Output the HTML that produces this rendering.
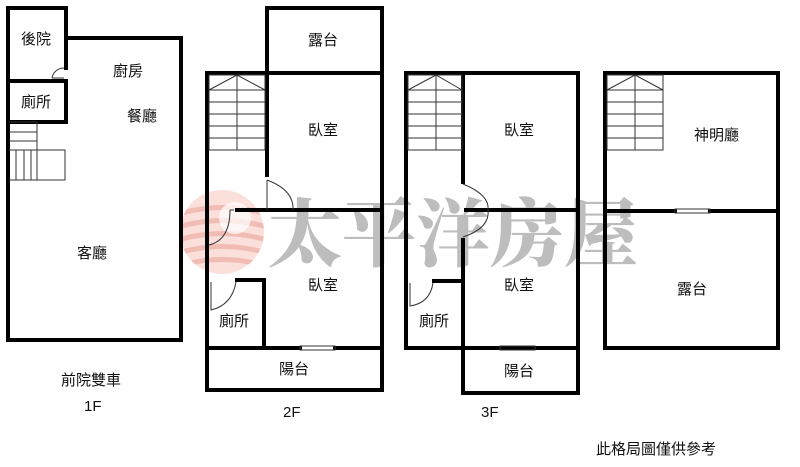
<!DOCTYPE html>
<html><head><meta charset="utf-8"><style>
html,body{margin:0;padding:0;background:#fff;}
svg{display:block}
text{font-family:"Liberation Sans","Noto Sans CJK TC",sans-serif;fill:#111;}
</style></head><body>
<svg width="800" height="467" viewBox="0 0 800 467" xmlns="http://www.w3.org/2000/svg">
<defs><clipPath id="c"><circle cx="222" cy="232" r="42"/></clipPath></defs>
<g clip-path="url(#c)" opacity="0.45">
<circle cx="222" cy="232" r="42" fill="#f3b8b0"/>
<g stroke="#e06a5a" stroke-width="5" fill="none">
<path d="M175 215 Q222 200 270 215"/><path d="M175 228 Q222 213 270 228"/><path d="M175 241 Q222 226 270 241"/><path d="M175 254 Q222 239 270 254"/><path d="M175 267 Q222 252 270 267"/>
</g>
<circle cx="235" cy="218" r="16" fill="#fff" opacity="0.7"/>
</g>
<text x="268" y="260" style="font-family:'Noto Serif CJK SC',serif;font-weight:900;font-size:74px;fill:#bdbdbd;letter-spacing:0px">太平洋房屋</text>

<g stroke="#000" stroke-width="4" fill="none" stroke-linecap="square">
<path d="M8 8 H66 V38 H181 V340 H8 Z"/>
<path d="M66 38 V68"/>
<path d="M8 81 H66 V122 H8"/>
<rect x="267" y="8" width="115" height="65"/>
<rect x="207" y="73" width="175" height="317"/>
<path d="M267 73 V175"/>
<path d="M237 210 H382"/>
<path d="M237 280 H264 V348"/>
<path d="M207 348 H300 M335 348 H382"/>
<rect x="406" y="73" width="172" height="275"/>
<path d="M463 73 V182 M463 240 V348"/>
<path d="M466 210 H578"/>
<path d="M434 281 H463"/>
<path d="M406 348 H500 M535 348 H578"/>
<path d="M463 348 V393 H578 V348"/>
<rect x="605" y="73" width="173" height="275"/>
<path d="M605 211 H675 M710 211 H778"/>
</g>
<g stroke="#333" stroke-width="1" fill="none">
<path d="M9 122 H37 V150 M9 132 H37 M9 141 H37 M9 150 H65 V180 H9 M16 150 V180 M24 150 V180 M31 150 V180 M37 150 V180"/>
<path d="M52 78 A12 12 0 0 1 64 68 M52 78 H64"/>
<rect x="209" y="75" width="56" height="75"/><path d="M237 75 V150 M209 90 H265 M209 102 H265 M209 114 H265 M209 126 H265 M209 138 H265 M209 90 L237 75 L265 90"/>
<path d="M267 180 Q294 190 293 210 M267 180 V210"/>
<path d="M230 210 Q230 240 209 245 M230 210 H234"/>
<path d="M236 282 Q232 305 211 310 L211 282"/>
<path d="M300 346 H335 V350 H300 Z"/>
<rect x="408" y="75" width="54" height="75"/><path d="M436 75 V150 M408 90 H462 M408 102 H462 M408 114 H462 M408 126 H462 M408 138 H462 M408 90 L436 75 L462 90"/>
<path d="M463 184 Q490 195 488 210 Q490 228 463 237"/>
<path d="M433 283 Q430 303 410 306 L410 283"/>
<path d="M500 346 H535 V350 H500 Z"/>
<rect x="607" y="75" width="56" height="75"/><path d="M635 75 V150 M607 90 H663 M607 102 H663 M607 114 H663 M607 126 H663 M607 138 H663 M607 90 L635 75 L663 90"/>
<path d="M675 209 H710 V213 H675 Z"/>
</g>
<g font-size="15">
<text x="21" y="44">後院</text>
<text x="113" y="76">廚房</text>
<text x="127" y="121">餐廳</text>
<text x="21" y="107">廁所</text>
<text x="77" y="258">客廳</text>
<text x="308" y="45">露台</text>
<text x="308" y="135">臥室</text>
<text x="308" y="290">臥室</text>
<text x="219" y="326">廁所</text>
<text x="279" y="374">陽台</text>
<text x="504" y="135">臥室</text>
<text x="504" y="290">臥室</text>
<text x="419" y="326">廁所</text>
<text x="504" y="376">陽台</text>
<text x="694" y="140">神明廳</text>
<text x="677" y="294">露台</text>
<text x="61" y="385">前院雙車</text>
<text x="84" y="411">1F</text>
<text x="283" y="417">2F</text>
<text x="481" y="417">3F</text>
<text x="596" y="454">此格局圖僅供參考</text>
</g>
</svg>
</body></html>
